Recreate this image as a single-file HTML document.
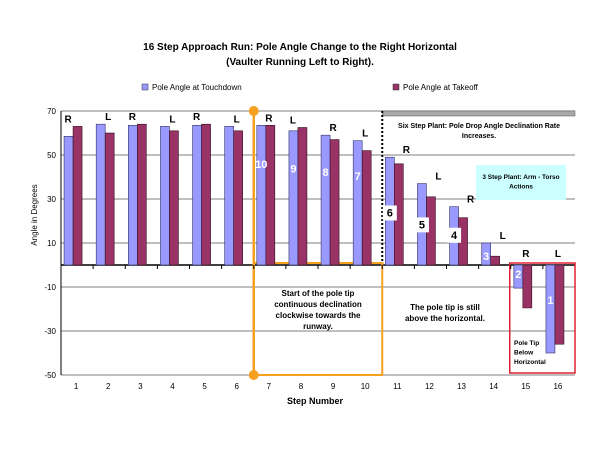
<!DOCTYPE html>
<html><head><meta charset="utf-8"><style>
body{margin:0;background:#fff;}
svg text{font-family:"Liberation Sans",Arial,sans-serif;}
</style></head><body>
<svg id="c" width="600" height="450" viewBox="0 0 600 450" xmlns="http://www.w3.org/2000/svg">
<text x="300" y="50" font-size="10" font-weight="bold" text-anchor="middle">16 Step Approach Run: Pole Angle Change to the Right Horizontal</text>
<text x="300" y="65" font-size="10" font-weight="bold" text-anchor="middle">(Vaulter Running  Left to Right).</text>
<g>
<rect x="142" y="84" width="6" height="6" fill="#9999ff" stroke="#333" stroke-width="0.5"/>
<text x="152" y="90" font-size="8">Pole Angle at Touchdown</text>
<rect x="393" y="84" width="6" height="6" fill="#993366" stroke="#333" stroke-width="0.5"/>
<text x="403" y="90" font-size="8">Pole Angle at Takeoff</text>
</g>
<g id="grid"></g>
<g id="ann"></g>
<g id="bars"></g>
<g id="labels"></g>
<text x="315" y="404" font-size="9" font-weight="bold" text-anchor="middle">Step Number</text>
<text transform="translate(37,215) rotate(-90)" font-size="8" text-anchor="middle">Angle in Degrees</text>
</svg>
<script>
const categories=["1","2","3","4","5","6","7","8","9","10","11","12","13","14","15","16"];
const touchdown=[58.5,64,63.5,63,63.5,63,63.5,61,59,56.5,49,37,26.5,10,-10.5,-40];
const takeoff=[63,60,64,61,64,61,63.5,62.5,57,52,46,31,21.5,4,-19.5,-36];
const feet=["R","L","R","L","R","L","R","L","R","L","R","L","R","L","R","L"];
const stepsLeft=["","","","","","","10","9","8","7","6","5","4","3","2","1"];
const yTicks=[70,50,30,10,-10,-30,-50];
const NS="http://www.w3.org/2000/svg";
const X0=61,X1=575,Y0=111,Y1=375,YMAX=70,YMIN=-50;
const bw=(X1-X0)/categories.length;
function y(v){return Y0+(YMAX-v)*(Y1-Y0)/(YMAX-YMIN);}
function x(i){return X0+i*bw;}
function mk(t,a,p){const e=document.createElementNS(NS,t);for(const k in a)e.setAttribute(k,a[k]);(p||document.getElementById('c')).appendChild(e);return e;}
const grid=document.getElementById('grid');
yTicks.forEach(t=>{
 const l=mk('line',{x1:X0,x2:X1,y1:y(t),y2:y(t),stroke:'#555','stroke-width':0.8},grid);
 
 
 const tx=mk('text',{x:X0-5,y:y(t)+3,'font-size':8,'text-anchor':'end'},grid);tx.textContent=t;
 
 
});
const ya=mk('line',{x1:X0,x2:X0,y1:Y0,y2:Y1,stroke:'#000','stroke-width':1},grid);


const xa=mk('line',{x1:X0,x2:X1,y1:y(0),y2:y(0),stroke:'#000','stroke-width':1.5},grid);


const ann=document.getElementById('ann');
mk('rect',{x:x(10),y:Y0,width:X1-x(10),height:5,fill:'#aaa',stroke:'#555','stroke-width':0.5},ann);
mk('line',{x1:x(10),x2:x(10),y1:Y0,y2:y(0),stroke:'#000','stroke-width':2,'stroke-dasharray':'2,2'},ann);
mk('rect',{x:476,y:165,width:90,height:35,fill:'#ccffff'},ann);
mk('rect',{x:x(6),y:y(0)-2,width:x(10)-x(6),height:Y1-y(0)+2,fill:'none',stroke:'#f5a020','stroke-width':2},ann);
mk('line',{x1:x(6),x2:x(6),y1:Y0,y2:Y1,stroke:'#f5a020','stroke-width':2.5},ann);
mk('circle',{cx:x(6),cy:Y0,r:5,fill:'#f5a020'},ann);
mk('circle',{cx:x(6),cy:Y1,r:5,fill:'#f5a020'},ann);
mk('rect',{x:x(14)-1,y:y(0)-2,width:X1-x(14)+1,height:Y1-y(0),fill:'none',stroke:'#dd2233','stroke-width':1.5},ann);
const bars=document.getElementById('bars'),labels=document.getElementById('labels');
categories.forEach((c,i)=>{
 const cx=x(i)+bw/2,w=9;
 const v1=touchdown[i],v2=takeoff[i];
 const b1=mk('rect',{x:cx-13,y:Math.min(y(v1),y(0)),width:w,height:Math.abs(y(v1)-y(0)),fill:'#9999ff',stroke:'#333366','stroke-width':0.6},bars);
 
 
 const b2=mk('rect',{x:cx-4,y:Math.min(y(v2),y(0)),width:w,height:Math.abs(y(v2)-y(0)),fill:'#993366',stroke:'#331122','stroke-width':0.6},bars);
 
 
 mk('line',{x1:x(i),x2:x(i),y1:y(0),y2:y(0)+4,stroke:'#000'},bars);
 const xl=mk('text',{x:cx-1,y:389,'font-size':8,'text-anchor':'middle'},labels);xl.textContent=c;
 
 
 const top=Math.max(v1,v2,0);
 const fy=(v1<0)?y(0)-8:y(top)-4;
 const fx=(i>=10&&i<14)?cx+8:cx-(v1<v2?6:-2)-3;
 const fl=mk('text',{x:(i>=14)?cx-1:fx,y:fy,'font-size':10,'font-weight':'bold','text-anchor':'middle'},labels);fl.textContent=feet[i];
 
 
 if(stepsLeft[i]){
  const boxed=(i>=10&&i<13);
  const ly=boxed?y(v1)+Math.abs(y(v1)-y(0))*0.55:(v1>0?y(v1)+(y(0)-y(v1))*0.22+12:y(0)+Math.abs(y(v1)-y(0))*0.4+4);
  const lx=cx-8.5;
  if(boxed) mk('rect',{x:lx-7,y:ly-11,width:14,height:15,fill:'#fff'},labels);
  const sl=mk('text',{x:lx,y:ly,'font-size':11,'font-weight':'bold','text-anchor':'middle',fill:boxed?'#000':'#fff'},labels);sl.textContent=stepsLeft[i];
  
  
 }
});
function note(lines,xx,yy,fs,name,anchor){
 const t=mk('text',{x:xx,y:yy,'font-size':fs,'font-weight':'bold','text-anchor':anchor||'middle'},labels);
 
 
 lines.forEach((s,k)=>{const ts=mk('tspan',{x:xx,dy:k?fs+3:0},t);ts.textContent=s;});
}
note(["Six Step Plant:  Pole Drop Angle Declination Rate","Increases."],479,128,7,'six-step-note');
note(["3 Step Plant: Arm - Torso","Actions"],521,179,6.5,'three-step-note');
note(["Start of the pole tip","continuous  declination","clockwise towards the","runway."],318,296,8,'declination-note');
note(["The pole tip is still","above the horizontal."],445,310,8,'above-horizontal-note');
note(["Pole Tip","Below","Horizontal"],514,345,6.5,'below-horizontal-note','start');
</script>
</body></html>
